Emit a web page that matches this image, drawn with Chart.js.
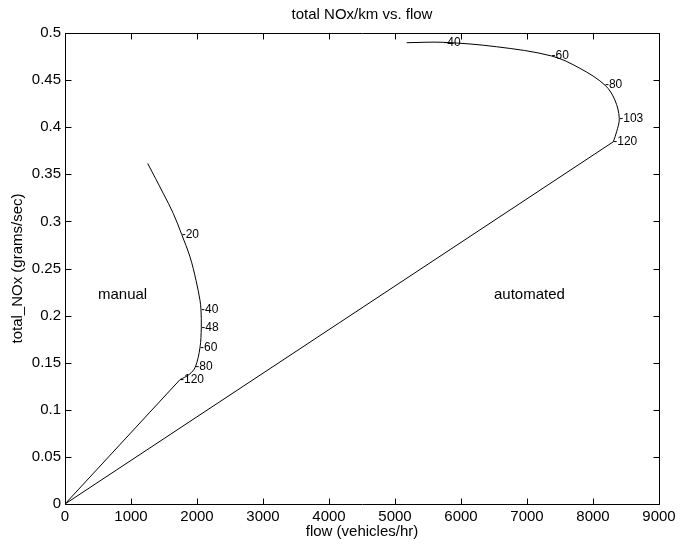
<!DOCTYPE html>
<html>
<head>
<meta charset="utf-8">
<script src="https://cdn.jsdelivr.net/npm/chart.js@4"></script>
<style>
html, body { margin: 0; padding: 0; background: #fff; }
#wrap { width: 681px; height: 548px; position: relative; }
</style>
</head>
<body>
<div id="wrap"><canvas id="c"></canvas></div>
<script>
// Flow (vehicles/hr) and total NOx (grams/sec) along each speed sweep
const manualFlow = [1742, 1883, 1974, 2045, 2065, 2060, 2045, 1985, 1894, 1768, 1641, 1490, 1253];
const manualNOx  = [0.132, 0.1376, 0.1454, 0.166, 0.1872, 0.2067, 0.2163, 0.2375, 0.2623, 0.2861, 0.3084, 0.3296, 0.3615];

const automatedFlow = [8307, 8358, 8398, 8332, 8181, 7802, 7373, 6540, 5731, 5177];
const automatedNOx  = [0.3845, 0.3951, 0.4094, 0.4288, 0.4447, 0.4625, 0.4756, 0.4854, 0.4901, 0.4897];

// Speed annotations on each curve
const manualSpeedText = ['-20', '-40', '-48', '-60', '-80', '-120'];
const manualSpeedFlow = [1768, 2060, 2065, 2045, 1974, 1742];
const manualSpeedNOx  = [0.2861, 0.2067, 0.1872, 0.166, 0.1454, 0.132];

const automatedSpeedText = ['-40', '-60', '-80', '-103', '-120'];
const automatedSpeedFlow = [5731, 7373, 8181, 8398, 8307];
const automatedSpeedNOx  = [0.4901, 0.4756, 0.4447, 0.4094, 0.3845];

// Region captions
const regionText = ['manual', 'automated'];
const regionFlow = [500, 6500];
const regionNOx  = [0.222, 0.222];

// Axis tick labels
const xTickLabels = ['0', '1000', '2000', '3000', '4000', '5000', '6000', '7000', '8000', '9000'];
const yTickLabels = ['0', '0.05', '0.1', '0.15', '0.2', '0.25', '0.3', '0.35', '0.4', '0.45', '0.5'];

const FONT = '"Liberation Sans", Arial, Helvetica, sans-serif';

const toPoints = (xs, ys) => xs.map((x, i) => ({ x: x, y: ys[i] }));
const origin = { x: 0, y: 0 };

const lineStyle = {
  showLine: true,
  borderColor: '#000',
  borderWidth: 1,
  pointRadius: 0,
  pointHoverRadius: 0,
  fill: false
};

// Frame, inward tick marks, title and text annotations
const decorations = {
  id: 'decorations',
  afterDatasetsDraw(chart) {
    const ctx = chart.ctx;
    const { left, right, top, bottom } = chart.chartArea;
    const xs = chart.scales.x, ys = chart.scales.y;
    const L = Math.round(left) + 0.5, R = Math.round(right) + 0.5;
    const T = Math.round(top) + 0.5, B = Math.round(bottom) + 0.5;
    const tl = 6;

    ctx.save();
    ctx.strokeStyle = '#000';
    ctx.lineWidth = 1;
    ctx.beginPath();
    ctx.rect(L, T, R - L, B - T);
    xs.ticks.forEach(t => {
      const p = Math.round(xs.getPixelForValue(t.value)) + 0.5;
      ctx.moveTo(p, B); ctx.lineTo(p, B - tl);
      ctx.moveTo(p, T); ctx.lineTo(p, T + tl);
    });
    ys.ticks.forEach(t => {
      const p = Math.round(ys.getPixelForValue(t.value)) + 0.5;
      ctx.moveTo(L, p); ctx.lineTo(L + tl, p);
      ctx.moveTo(R, p); ctx.lineTo(R - tl, p);
    });
    ctx.stroke();

    ctx.fillStyle = '#000';
    // title
    ctx.font = '15px ' + FONT;
    ctx.textAlign = 'center';
    ctx.textBaseline = 'middle';
    ctx.fillText('total NOx/km vs. flow', (left + right) / 2, 15);

    // region captions
    ctx.textAlign = 'left';
    regionText.forEach((s, i) => {
      ctx.fillText(s, xs.getPixelForValue(regionFlow[i]), ys.getPixelForValue(regionNOx[i]));
    });

    // speed annotations
    ctx.font = '12px ' + FONT;
    const drawSpeeds = (texts, fx, fy) => texts.forEach((s, i) => {
      ctx.fillText(s, xs.getPixelForValue(fx[i]), ys.getPixelForValue(fy[i]));
    });
    drawSpeeds(manualSpeedText, manualSpeedFlow, manualSpeedNOx);
    drawSpeeds(automatedSpeedText, automatedSpeedFlow, automatedSpeedNOx);
    ctx.restore();
  }
};

new Chart(document.getElementById('c'), {
  type: 'scatter',
  data: {
    datasets: [
      Object.assign({ data: [origin, toPoints(manualFlow, manualNOx)[0]], tension: 0 }, lineStyle),
      Object.assign({ data: toPoints(manualFlow, manualNOx), tension: 0.35 }, lineStyle),
      Object.assign({ data: [origin, toPoints(automatedFlow, automatedNOx)[0]], tension: 0 }, lineStyle),
      Object.assign({ data: toPoints(automatedFlow, automatedNOx), tension: 0.35 }, lineStyle)
    ]
  },
  options: {
    responsive: true,
    maintainAspectRatio: false,
    animation: false,
    events: [],
    layout: { padding: { left: 0, right: 22, top: 33, bottom: 0 } },
    plugins: {
      legend: { display: false },
      tooltip: { enabled: false },
      title: { display: false }
    },
    scales: {
      x: {
        type: 'linear',
        min: 0, max: 9000,
        grid: { display: false, drawTicks: false },
        border: { display: false },
        ticks: {
          stepSize: 1000,
          padding: 4,
          color: '#000',
          font: { family: FONT, size: 15 },
          maxRotation: 0,
          autoSkip: false,
          callback: (v, i) => xTickLabels[i]
        },
        title: {
          display: true,
          text: 'flow (vehicles/hr)',
          color: '#000',
          font: { family: FONT, size: 15 },
          padding: { top: 0, bottom: 7 }
        },
        afterFit: s => { s.height = 44; }
      },
      y: {
        type: 'linear',
        min: 0, max: 0.5,
        grid: { display: false, drawTicks: false },
        border: { display: false },
        ticks: {
          stepSize: 0.05,
          padding: 4,
          color: '#000',
          font: { family: FONT, size: 15 },
          autoSkip: false,
          callback: (v, i) => yTickLabels[i]
        },
        title: {
          display: true,
          text: 'total_NOx (grams/sec)',
          color: '#000',
          font: { family: FONT, size: 15 },
          padding: { top: 9, bottom: 0 }
        },
        afterFit: s => { s.width = 65; }
      }
    }
  },
  plugins: [decorations]
});
</script>
</body>
</html>
